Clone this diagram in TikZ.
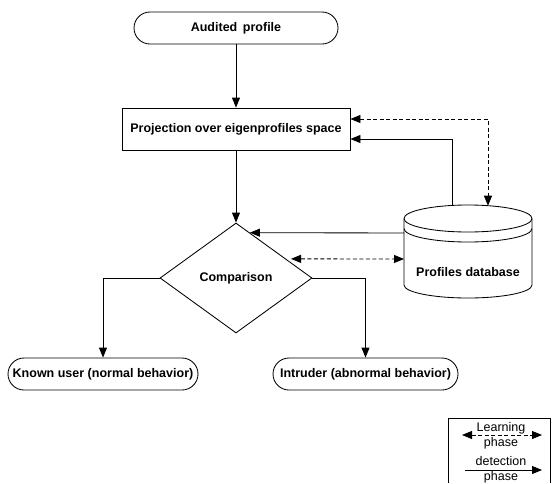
\documentclass[tikz,border=0pt]{standalone}
\usepackage{fontspec}
\setmainfont{Liberation Sans}
\usetikzlibrary{arrows.meta,shapes.geometric,calc}
\begin{document}
\begin{tikzpicture}[x=1pt,y=-1pt,
  line width=0.85pt,
  arr/.style={-{Triangle[length=10pt,width=8pt]}},
  darr/.style={{Triangle[length=10pt,width=8pt]}-{Triangle[length=10pt,width=8pt]}, dashed, dash pattern=on 4pt off 2.5pt},
  lbl/.style={font=\fontsize{12.5}{14}\selectfont\bfseries},
  pill/.style={draw, lbl, rounded corners=16pt, minimum height=32pt, inner sep=0pt},
  boxnode/.style={draw, lbl, minimum width=228pt, minimum height=42pt, inner sep=0pt},
  decision/.style={draw, lbl, diamond, minimum width=152pt, minimum height=110pt, inner sep=0pt},
  legtext/.style={font=\fontsize{12.5}{13}\selectfont, inner sep=0pt}
]
\useasboundingbox (0,0) rectangle (552,483);

% flow nodes
\node[pill, minimum width=204pt] (aud) at (236,28) {Audited\hspace{0.45em}profile};
\node[boxnode] (proj) at (236,129) {Projection over eigenprofiles space};
\node[decision] (cmp) at (236,278) {Comparison};
\node[pill, minimum width=190pt] (known) at (103,374) {Known user (normal behavior)};
\node[pill, minimum width=185pt] (intr) at (365.5,374) {Intruder (abnormal behavior)};

% profiles database drawn as a cylinder with a double rim
\node[lbl, inner sep=0pt] (db) at (468,272) {Profiles database};
\draw (404,218.5) -- (404,285) arc[start angle=180, end angle=360, x radius=64pt, y radius=13pt]
      -- (532,218.5);
\draw (468,218.5) ellipse[x radius=64pt, y radius=13.5pt];
\draw (404,228.5) arc[start angle=180, end angle=360, x radius=64pt, y radius=13.5pt];

% anchor points on the database outline
\coordinate (dbS) at (452,205.5);
\coordinate (dbD) at (488,205.7);
\coordinate (dbL) at (404,233);
\coordinate (dbM) at (404,259);

% anchor points on the box and the diamond
\path (proj.east) ++(0,10) coordinate (pjS);
\path (proj.east) ++(0,-10) coordinate (pjD);
\coordinate (cmpA) at ($(cmp.north)!0.1818!(cmp.east)$);
\coordinate (cmpB) at ($(cmp.north)!0.6545!(cmp.east)$);

% main flow
\draw[arr] (aud) -- (proj);
\draw[arr] (proj) -- (cmp);
\draw[arr] (cmp.west) -| (known.north);
\draw[arr] (cmp.east) -| (intr.north);

% database exchanges
\draw[arr] (dbS) |- (pjS);
\draw[darr] (pjD) -| (dbD);
\draw[arr] (dbL) -- (cmpA);
\draw[darr, shorten <=5pt] (cmpB) -- (dbM);

% legend
\draw (448,483) -- (448,418) -- (550,418) -- (550,483);
\coordinate (l1a) at (462,435);
\coordinate (l1b) at (542,435);
\coordinate (l2a) at (465,470);
\coordinate (l2b) at (542,470);
\draw[darr] (l1a) -- (l1b);
\draw[arr] (l2a) -- (l2b);
\node[legtext] (t1) at (501,428) {Learning};
\node[legtext] (t2) at (501,443) {phase};
\node[legtext] (t3) at (501,461) {detection};
\node[legtext] (t4) at (501,477) {phase};
\end{tikzpicture}
\end{document}
